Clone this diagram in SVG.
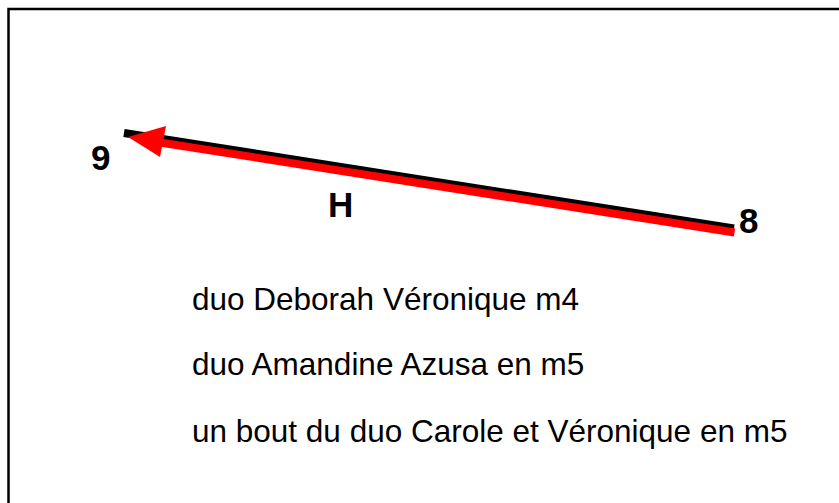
<svg xmlns="http://www.w3.org/2000/svg" width="839" height="503" viewBox="0 0 839 503">
<style>
.lbl{font-family:"Liberation Sans",Arial,sans-serif;font-weight:bold;font-size:35px;fill:#000}
.txt{font-family:"Liberation Sans",Arial,sans-serif;font-size:31.5px;fill:#000}
</style>
<rect x="0" y="0" width="839" height="503" fill="#fff"/>
<rect x="8.5" y="9" width="840" height="510" fill="none" stroke="#000" stroke-width="2.5"/>
<g id="connectors">
<line x1="734" y1="228.5" x2="124" y2="133" stroke="#000" stroke-width="8"/>
<line x1="734.5" y1="232.5" x2="160" y2="142.5" stroke="#f00" stroke-width="8"/>
<polygon points="128,137 166,126 160,157" fill="#f00"/>
</g>
<g id="node-9"><text class="lbl" x="91" y="170">9</text></g>
<g id="node-8"><text class="lbl" x="739" y="233">8</text></g>
<g id="label-H"><text class="lbl" x="328" y="217">H</text></g>
<g id="notes">
<text class="txt" x="192" y="310">duo Deborah Véronique m4</text>
<text class="txt" x="192" y="375">duo Amandine Azusa en m5</text>
<text class="txt" x="192" y="442">un bout du duo Carole et Véronique en m5</text>
</g>
</svg>
